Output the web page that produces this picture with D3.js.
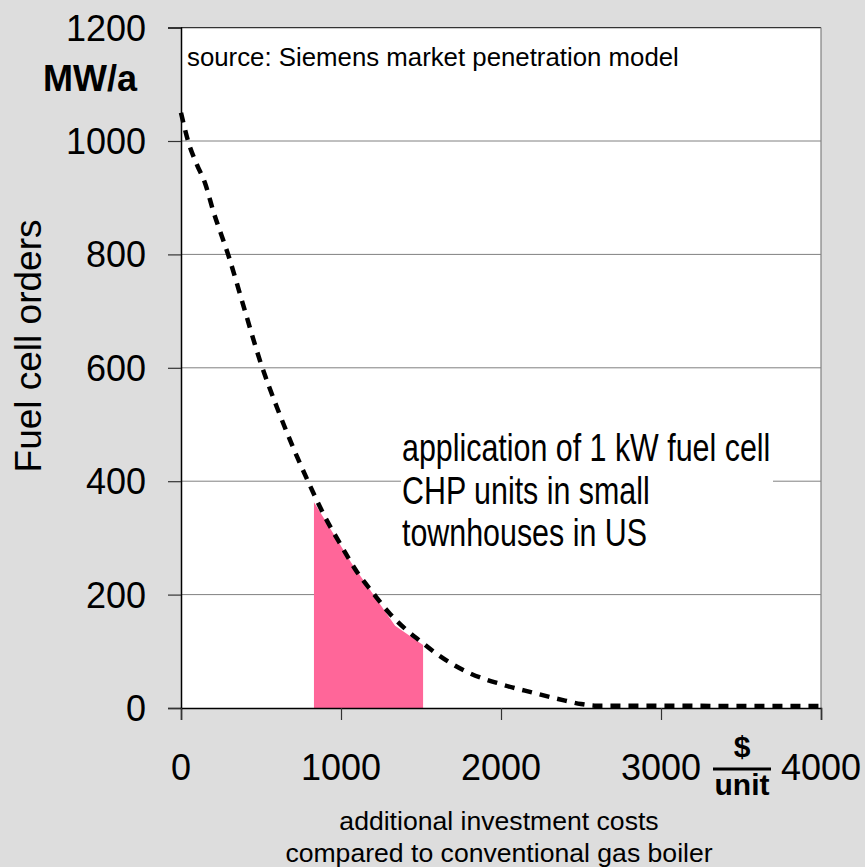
<!DOCTYPE html>
<html><head><meta charset="utf-8">
<script src="https://cdn.jsdelivr.net/npm/d3@7"></script>
<style>body{margin:0;background:#dddddd}svg{display:block}text{font-family:Arial,"Liberation Sans",sans-serif}</style>
</head><body>
<svg id="c" width="865" height="867"></svg>
<script>
const curveX = [0, 44, 100, 150, 200, 300, 400, 500, 600, 700, 800, 900, 1000, 1100, 1200, 1300, 1400, 1500, 1600, 1800, 2000, 2200, 2400, 2500, 2600, 3000, 3500, 4000];
const curveY = [1050, 1000, 958, 926, 878, 795, 700, 607, 530, 460, 396, 337, 287, 240, 203, 168, 140, 117, 95, 62, 42, 27, 13, 7, 4, 4, 3.5, 3.5];
const pinkX = [831, 1069, 1338, 1513];
const pinkY = [363, 254, 145, 111];
const xTicks = [0, 1000, 2000, 3000, 4000];
const yTicks = [0, 200, 400, 600, 800, 1000, 1200];
const annotation = ["application of 1 kW fuel cell", "CHP units in small", "townhouses in US"];
const xTitle = ["additional investment costs", "compared to conventional gas boiler"];

const svg = d3.select("#c");
const x = d3.scaleLinear().domain([0, 4000]).range([181, 821]);
const y = d3.scaleLinear().domain([0, 1200]).range([708, 27.6]);

svg.append("rect").attr("width", 865).attr("height", 867).attr("fill", "#dddddd");
svg.append("rect").attr("x", x(0)).attr("y", y(1200)).attr("width", x(4000) - x(0)).attr("height", y(0) - y(1200)).attr("fill", "#fff");

// grid
svg.append("g").selectAll("line").data(yTicks.filter(d => d > 0 && d < 1200)).join("line")
  .attr("x1", x(0)).attr("x2", x(4000)).attr("y1", d => y(d)).attr("y2", d => y(d))
  .attr("stroke", "#808080").attr("stroke-width", 1);
// borders
svg.append("line").attr("x1", x(0)).attr("x2", x(4000)).attr("y1", y(1200)).attr("y2", y(1200)).attr("stroke", "#333").attr("stroke-width", 1.2);
svg.append("line").attr("x1", x(4000)).attr("x2", x(4000)).attr("y1", y(1200)).attr("y2", y(0)).attr("stroke", "#808080").attr("stroke-width", 1.2);

// pink area
const pink = pinkX.map((d, i) => [d, pinkY[i]]);
svg.append("path").datum(pink)
  .attr("d", d3.area().x(d => x(d[0])).y0(y(0)).y1(d => y(d[1])))
  .attr("fill", "#ff6699");

// annotation box
const ann = svg.append("g");
ann.append("rect").attr("x", 401).attr("y", 424).attr("width", 372).attr("height", 132).attr("fill", "#fff");

// curve
const pts = curveX.map((d, i) => [d, curveY[i]]);
svg.append("path").datum(pts)
  .attr("d", d3.line().x(d => x(d[0])).y(d => y(d[1])).curve(d3.curveMonotoneX))
  .attr("fill", "none").attr("stroke", "#000").attr("stroke-width", 4.5).attr("stroke-dasharray", "10,8");

// axes
const yAxis = d3.axisLeft(y).tickValues(yTicks).tickSize(13).tickFormat("");
const gy = svg.append("g").attr("transform", `translate(${x(0)},0)`).call(yAxis);
gy.select(".domain").attr("stroke", "#000").attr("stroke-width", 1.5);
gy.selectAll(".tick line").attr("stroke", "#333").attr("stroke-width", 1.2);
const xAxis = d3.axisBottom(x).tickValues(xTicks).tickSize(12).tickFormat("");
const gx = svg.append("g").attr("transform", `translate(0,${y(0)})`).call(xAxis);
gx.select(".domain").attr("stroke", "#000").attr("stroke-width", 1.5);
gx.selectAll(".tick line").attr("stroke", "#333").attr("stroke-width", 1.2);

// tick labels
svg.append("g").selectAll("text").data(yTicks).join("text")
  .attr("x", 146).attr("y", d => y(d) + 13).attr("text-anchor", "end")
  .attr("font-size", 36).attr("fill", "#000").text(d => d);
svg.append("g").selectAll("text").data(xTicks).join("text")
  .attr("x", d => x(d)).attr("y", 780).attr("text-anchor", "middle")
  .attr("font-size", 36).attr("fill", "#000").text(d => d);

// unit fraction
svg.append("text").attr("x", 742).attr("y", 757).attr("text-anchor", "middle").attr("font-size", 30).attr("font-weight", "bold").text("$");
svg.append("line").attr("x1", 713).attr("x2", 771).attr("y1", 769).attr("y2", 769).attr("stroke", "#000").attr("stroke-width", 3);
svg.append("text").attr("x", 742).attr("y", 795).attr("text-anchor", "middle").attr("font-size", 30).attr("font-weight", "bold").text("unit");

// y label
svg.append("text").attr("transform", "translate(41,346) rotate(-90)").attr("text-anchor", "middle")
  .attr("font-size", 37).text("Fuel cell orders");
svg.append("text").attr("x", 137).attr("y", 91).attr("text-anchor", "end").attr("font-size", 36).attr("font-weight", "bold").text("MW/a");

// source
svg.append("text").attr("x", 187).attr("y", 66).attr("font-size", 25.8).text("source: Siemens market penetration model");

// annotation text
ann.selectAll("text").data(annotation).join("text")
  .attr("transform", (d, i) => `translate(402,${461 + i * 42.5}) scale(0.8,1)`)
  .attr("font-size", 38).text(d => d);

// x title
svg.append("g").selectAll("text").data(xTitle).join("text")
  .attr("x", 499).attr("y", (d, i) => 830 + i * 32).attr("text-anchor", "middle")
  .attr("font-size", 26.6).text(d => d);
</script>
</body></html>
